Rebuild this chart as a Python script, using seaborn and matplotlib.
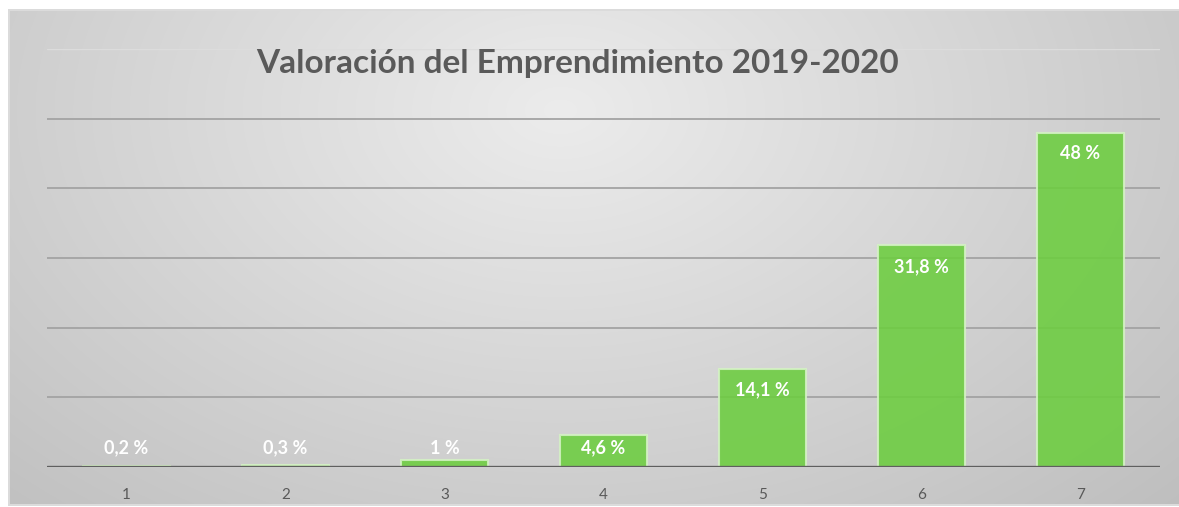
import numpy as np
import matplotlib
matplotlib.use("Agg")
import matplotlib.pyplot as plt
import seaborn as sns
import pandas as pd

categories = ["1", "2", "3", "4", "5", "6", "7"]
values = [0.2, 0.3, 1, 4.6, 14.1, 31.8, 48]
labels = ["0,2 %", "0,3 %", "1 %", "4,6 %", "14,1 %", "31,8 %", "48 %"]
title = "Valoración del Emprendimiento 2019-2020"

sns.set_theme(style="white")
plt.rcParams['font.family'] = ['Lato', 'DejaVu Sans']

W, H = 1179, 507
fig = plt.figure(figsize=(W / 100, H / 100), dpi=100)

# background gradient panel
bg = fig.add_axes([0, 0, 1, 1])
bg.set_axis_off()
yy, xx = np.mgrid[0:H, 0:W]
d = np.sqrt(((xx - 560) / 720.0) ** 2 + ((yy - 110) / 480.0) ** 2)
img = 0.925 - 0.15 * np.clip(d, 0, 1.3)
inside = (xx >= 8) & (yy >= 9) & (yy <= 505)
img = np.where(inside, img, 1.0)
border = inside & ((xx <= 9) | (yy <= 10) | (yy >= 504))
img = np.where(border, 0.86, img)
bg.imshow(np.dstack([img, img, img]), extent=[0, W, H, 0], aspect='auto',
          interpolation='bilinear')
bg.set_xlim(0, W)
bg.set_ylim(H, 0)

df = pd.DataFrame({"cat": categories, "val": values})

ax = fig.add_axes([47 / W, (H - 467) / H, 1113 / W, (467 - 49) / H])
ax.set_facecolor((0, 0, 0, 0))
ax.set_yticks(range(0, 61, 10))
ax.yaxis.grid(True, color="#a3a3a3", linewidth=1.3)
ax.set_axisbelow(True)
gl = ax.get_ygridlines()
gl[-1].set_color("#dcdcdc")
gl[-1].set_linewidth(1.0)

sns.barplot(data=df, x="cat", y="val", color="#6ccd3f", width=0.55,
            alpha=0.88, edgecolor="#d4f2c4", linewidth=1.5, ax=ax,
            saturation=1)

ax.set_ylim(0, 60)
ax.axhline(0, color="#5f5f5f", linewidth=2.4, zorder=5)

for i, (v, lab) in enumerate(zip(values, labels)):
    y = max(v - 3.0, 2.7)
    ax.text(i, y, lab, ha="center", va="center", color="white",
            fontsize=13, fontweight="bold", zorder=6)

for s in ax.spines.values():
    s.set_visible(False)
ax.set_xlabel("")
ax.set_ylabel("")
ax.tick_params(axis="y", left=False, labelleft=False)
ax.tick_params(axis="x", bottom=False, colors="#595959", labelsize=11, pad=9)

fig.text(578 / W, 1 - 73 / H, title, ha="center", va="baseline",
         fontsize=24, fontweight="bold", color="#5a5a5a")

fig.savefig("out.png", dpi=100)
